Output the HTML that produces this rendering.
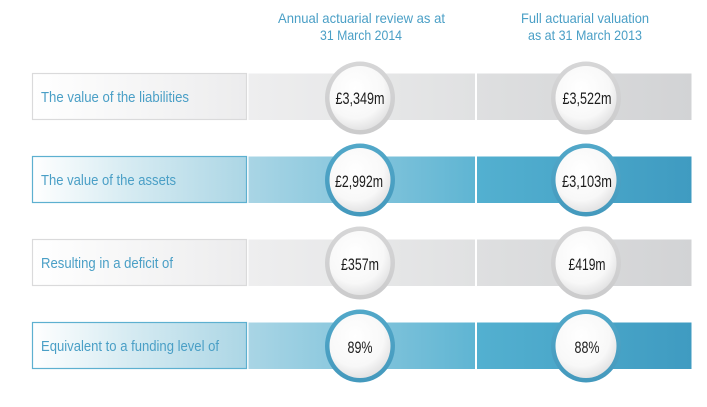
<!DOCTYPE html>
<html>
<head>
<meta charset="utf-8">
<style>
  html,body{margin:0;padding:0;background:#fff;}
  svg{display:block;}
  text{font-family:"Liberation Sans",sans-serif;}
</style>
</head>
<body>
<svg width="707" height="407" viewBox="0 0 707 407" xmlns="http://www.w3.org/2000/svg">
  <defs>
    <linearGradient id="gBox" x1="0" x2="1" y1="0" y2="0">
      <stop offset="0" stop-color="#ffffff"/>
      <stop offset="1" stop-color="#ececed"/>
    </linearGradient>
    <linearGradient id="gSeg2" x1="0" x2="1" y1="0" y2="0">
      <stop offset="0" stop-color="#eeeeef"/>
      <stop offset="1" stop-color="#e0e1e2"/>
    </linearGradient>
    <linearGradient id="gSeg3" x1="0" x2="1" y1="0" y2="0">
      <stop offset="0" stop-color="#dedfe0"/>
      <stop offset="1" stop-color="#d2d3d5"/>
    </linearGradient>
    <linearGradient id="bBox" x1="0" x2="1" y1="0" y2="0">
      <stop offset="0" stop-color="#ffffff"/>
      <stop offset="0.45" stop-color="#d6ebf2"/>
      <stop offset="1" stop-color="#acd6e5"/>
    </linearGradient>
    <linearGradient id="bSeg2" x1="0" x2="1" y1="0" y2="0">
      <stop offset="0" stop-color="#a9d5e5"/>
      <stop offset="1" stop-color="#5fb5d3"/>
    </linearGradient>
    <linearGradient id="bSeg3" x1="0" x2="1" y1="0" y2="0">
      <stop offset="0" stop-color="#53b0d0"/>
      <stop offset="1" stop-color="#3f9bc1"/>
    </linearGradient>
    <radialGradient id="cIn" cx="0.42" cy="0.35" r="0.72">
      <stop offset="0" stop-color="#ffffff"/>
      <stop offset="0.65" stop-color="#f8f8f8"/>
      <stop offset="1" stop-color="#dcdcdd"/>
    </radialGradient>
    <linearGradient id="ringG" x1="0" x2="0" y1="0" y2="1">
      <stop offset="0" stop-color="#d6d6d7"/>
      <stop offset="1" stop-color="#cbcbcc"/>
    </linearGradient>
    <linearGradient id="ringB" x1="0" x2="0" y1="0" y2="1">
      <stop offset="0" stop-color="#52a8c9"/>
      <stop offset="1" stop-color="#4499bd"/>
    </linearGradient>
  </defs>

  <!-- Headers -->
  <g fill="#4a9fc6" font-size="14">
    <text x="278" y="23" textLength="167" lengthAdjust="spacingAndGlyphs">Annual actuarial review as at</text>
    <text x="320" y="40" textLength="82" lengthAdjust="spacingAndGlyphs">31 March 2014</text>
    <text x="521" y="23" textLength="128" lengthAdjust="spacingAndGlyphs">Full actuarial valuation</text>
    <text x="528" y="40" textLength="114" lengthAdjust="spacingAndGlyphs">as at 31 March 2013</text>
  </g>

  <!-- Row 1 (gray) -->
  <g>
    <rect x="32.5" y="73.5" width="214" height="46" fill="url(#gBox)" stroke="#dadadb" stroke-width="1.2"/>
    <rect x="248.5" y="73.5" width="226.5" height="46.5" fill="url(#gSeg2)"/>
    <rect x="477" y="73.5" width="214.5" height="46.5" fill="url(#gSeg3)"/>
  </g>
  <!-- Row 2 (blue) -->
  <g>
    <rect x="32.5" y="156.5" width="214" height="46" fill="url(#bBox)" stroke="#5db0d0" stroke-width="1.2"/>
    <rect x="248.5" y="156.5" width="226.5" height="46.5" fill="url(#bSeg2)"/>
    <rect x="477" y="156.5" width="214.5" height="46.5" fill="url(#bSeg3)"/>
  </g>
  <!-- Row 3 (gray) -->
  <g>
    <rect x="32.5" y="239.5" width="214" height="46" fill="url(#gBox)" stroke="#dadadb" stroke-width="1.2"/>
    <rect x="248.5" y="239.5" width="226.5" height="46.5" fill="url(#gSeg2)"/>
    <rect x="477" y="239.5" width="214.5" height="46.5" fill="url(#gSeg3)"/>
  </g>
  <!-- Row 4 (blue) -->
  <g>
    <rect x="32.5" y="322.5" width="214" height="46" fill="url(#bBox)" stroke="#5db0d0" stroke-width="1.2"/>
    <rect x="248.5" y="322.5" width="226.5" height="46.5" fill="url(#bSeg2)"/>
    <rect x="477" y="322.5" width="214.5" height="46.5" fill="url(#bSeg3)"/>
  </g>

  <!-- Labels -->
  <g fill="#4a9fc6" font-size="14.5">
    <text x="41" y="102" textLength="148" lengthAdjust="spacingAndGlyphs">The value of the liabilities</text>
    <text x="41" y="185" textLength="135" lengthAdjust="spacingAndGlyphs">The value of the assets</text>
    <text x="41" y="268" textLength="132" lengthAdjust="spacingAndGlyphs">Resulting in a deficit of</text>
    <text x="41" y="351" textLength="178" lengthAdjust="spacingAndGlyphs">Equivalent to a funding level of</text>
  </g>

  <!-- Circles row 1 -->
  <g>
    <ellipse cx="360" cy="98" rx="35" ry="36.5" fill="url(#ringG)"/>
    <ellipse cx="360" cy="98" rx="30.5" ry="32" fill="url(#cIn)"/>
    <ellipse cx="586" cy="98" rx="35" ry="36.5" fill="url(#ringG)"/>
    <ellipse cx="586" cy="98" rx="30.5" ry="32" fill="url(#cIn)"/>
  </g>
  <!-- Circles row 2 -->
  <g>
    <ellipse cx="360" cy="180" rx="35" ry="36.5" fill="url(#ringB)"/>
    <ellipse cx="360" cy="180" rx="30.5" ry="32" fill="url(#cIn)"/>
    <ellipse cx="586" cy="180" rx="35" ry="36.5" fill="url(#ringB)"/>
    <ellipse cx="586" cy="180" rx="30.5" ry="32" fill="url(#cIn)"/>
  </g>
  <!-- Circles row 3 -->
  <g>
    <ellipse cx="360" cy="263" rx="35" ry="36.5" fill="url(#ringG)"/>
    <ellipse cx="360" cy="263" rx="30.5" ry="32" fill="url(#cIn)"/>
    <ellipse cx="586" cy="263" rx="35" ry="36.5" fill="url(#ringG)"/>
    <ellipse cx="586" cy="263" rx="30.5" ry="32" fill="url(#cIn)"/>
  </g>
  <!-- Circles row 4 -->
  <g>
    <ellipse cx="360" cy="346" rx="35" ry="36.5" fill="url(#ringB)"/>
    <ellipse cx="360" cy="346" rx="30.5" ry="32" fill="url(#cIn)"/>
    <ellipse cx="586" cy="346" rx="35" ry="36.5" fill="url(#ringB)"/>
    <ellipse cx="586" cy="346" rx="30.5" ry="32" fill="url(#cIn)"/>
  </g>

  <!-- Values -->
  <g fill="#1b1b1b" font-size="17" text-anchor="middle">
    <text x="360" y="104" textLength="49" lengthAdjust="spacingAndGlyphs">£3,349m</text>
    <text x="587" y="104" textLength="49" lengthAdjust="spacingAndGlyphs">£3,522m</text>
    <text x="359" y="187" textLength="48" lengthAdjust="spacingAndGlyphs">£2,992m</text>
    <text x="587" y="187" textLength="50" lengthAdjust="spacingAndGlyphs">£3,103m</text>
    <text x="360" y="270" textLength="38" lengthAdjust="spacingAndGlyphs">£357m</text>
    <text x="587" y="270" textLength="37" lengthAdjust="spacingAndGlyphs">£419m</text>
    <text x="360" y="353" textLength="25" lengthAdjust="spacingAndGlyphs">89%</text>
    <text x="587" y="353" textLength="25" lengthAdjust="spacingAndGlyphs">88%</text>
  </g>
</svg>
</body>
</html>
